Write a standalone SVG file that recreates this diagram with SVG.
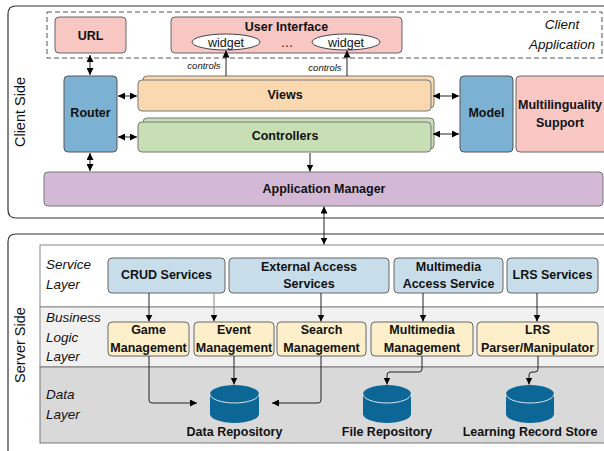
<svg xmlns="http://www.w3.org/2000/svg" width="604" height="451" viewBox="0 0 604 451">
<defs>
<marker id="ah" viewBox="0 0 10 10" refX="10" refY="5" markerWidth="7" markerHeight="7" markerUnits="userSpaceOnUse" orient="auto-start-reverse">
<path d="M0,0 L10,5 L0,10 z" fill="#000"/>
</marker>
<style>
text{font-family:"Liberation Sans",Arial,sans-serif;fill:#111;}
.b{font-weight:bold;font-size:12.5px;text-anchor:middle;}
.it{font-style:italic;font-size:13.5px;}
.ctl{font-style:italic;font-size:9.5px;text-anchor:middle;}
.side{font-size:14.5px;text-anchor:middle;}
.wg{font-size:12.5px;text-anchor:middle;}
.pink{fill:#f8c6c3;stroke:#666;stroke-width:1;}
.blue{fill:#7bb1d2;stroke:#555;stroke-width:1;}
.peach{fill:#fbd9b0;stroke:#777;stroke-width:1;}
.green{fill:#c8dfb6;stroke:#777;stroke-width:1;}
.purple{fill:#d3b9d6;stroke:#777;stroke-width:1;}
.svc{fill:#c7dde9;stroke:#666;stroke-width:1;}
.biz{fill:#fcefc9;stroke:#666;stroke-width:1;}
.cyl{fill:#0c6796;}
.cylline{fill:none;stroke:#d8e6ee;stroke-width:1;}
.ln{fill:none;stroke:#222;stroke-width:1;}
.ln2{fill:none;stroke:#888;stroke-width:1;}
</style>
</defs>

<!-- Containers -->
<g id="client-side">
<path d="M610,6 H16 Q8,6 8,14 V210 Q8,218 16,218 H610" fill="#fff" stroke="#333" stroke-width="1.2"/>
<text class="side" transform="translate(25,112) rotate(-90)">Client Side</text>
</g>
<g id="client-application">
<rect x="47" y="12" width="555" height="46" fill="none" stroke="#555" stroke-width="1" stroke-dasharray="5,3"/>
<text class="it" x="562" y="29" text-anchor="middle">Client</text>
<text class="it" x="562" y="49" text-anchor="middle">Application</text>
</g>
<g id="server-side">
<path d="M610,234 H16 Q8,234 8,242 V455" fill="#fff" stroke="#333" stroke-width="1.2"/>
<text class="side" transform="translate(25,345) rotate(-90)">Server Side</text>
</g>

<g id="service-layer">
<rect x="40" y="245" width="570" height="62" fill="#fff" stroke="#888" stroke-width="1"/>
<text class="it" x="46" y="269">Service</text>
<text class="it" x="46" y="289">Layer</text>
</g>
<g id="business-layer">
<rect x="40" y="307" width="570" height="60" fill="#f1f1f1" stroke="#888" stroke-width="1"/>
<text class="it" x="46" y="322">Business</text>
<text class="it" x="46" y="342">Logic</text>
<text class="it" x="46" y="361">Layer</text>
</g>
<g id="data-layer">
<rect x="40" y="367" width="570" height="76" fill="#d9d9d9" stroke="#777" stroke-width="1"/>
<text class="it" x="46" y="399">Data</text>
<text class="it" x="46" y="419">Layer</text>
</g>

<!-- Client nodes -->
<g id="url">
<rect class="pink" x="55" y="17" width="71" height="36" rx="4"/>
<text class="b" x="90.5" y="39.5">URL</text>
</g>
<g id="user-interface">
<rect class="pink" x="171" y="17" width="231" height="36" rx="4"/>
<text class="b" x="286.5" y="31">User Interface</text>
<ellipse cx="226" cy="42" rx="34" ry="8" fill="#fff" stroke="#444" stroke-width="1"/>
<text class="wg" x="226" y="46.5">widget</text>
<text class="wg" x="287" y="47">…</text>
<ellipse cx="346" cy="42" rx="34" ry="8" fill="#fff" stroke="#444" stroke-width="1"/>
<text class="wg" x="346" y="46.5">widget</text>
</g>
<g id="router">
<rect class="blue" x="64" y="76" width="53" height="76" rx="4"/>
<text class="b" x="90.5" y="116.5">Router</text>
</g>
<g id="views">
<rect class="peach" x="143" y="76" width="291" height="32" rx="4"/>
<rect class="peach" x="138" y="80" width="293" height="31" rx="4"/>
<text class="b" x="285" y="98.5">Views</text>
</g>
<g id="controllers">
<rect class="green" x="143" y="118" width="291" height="31" rx="4"/>
<rect class="green" x="138" y="122" width="293" height="30" rx="4"/>
<text class="b" x="285" y="140">Controllers</text>
</g>
<g id="model">
<rect class="blue" x="460" y="76" width="53" height="76" rx="4"/>
<text class="b" x="486.5" y="116.5">Model</text>
</g>
<g id="multilinguality">
<rect class="pink" x="516" y="76" width="92" height="76" rx="4"/>
<text class="b" x="560" y="108.5">Multilinguality</text>
<text class="b" x="560" y="126.5">Support</text>
</g>
<g id="application-manager">
<rect class="purple" x="44" y="172" width="559" height="34" rx="4"/>
<text class="b" x="324" y="192.5">Application Manager</text>
</g>

<!-- Server nodes -->
<g id="crud-services">
<rect class="svc" x="108" y="258" width="117" height="35" rx="4"/>
<text class="b" x="166.5" y="279">CRUD Services</text>
</g>
<g id="external-access-services">
<rect class="svc" x="229" y="258" width="160" height="35" rx="4"/>
<text class="b" x="309" y="270.5">External Access</text>
<text class="b" x="309" y="287.5">Services</text>
</g>
<g id="multimedia-access-service">
<rect class="svc" x="394" y="258" width="109" height="35" rx="4"/>
<text class="b" x="448.5" y="270.5">Multimedia</text>
<text class="b" x="448.5" y="287.5">Access Service</text>
</g>
<g id="lrs-services">
<rect class="svc" x="507" y="258" width="91" height="35" rx="4"/>
<text class="b" x="552.5" y="279">LRS Services</text>
</g>

<g id="game-management">
<rect class="biz" x="108" y="322" width="81" height="34" rx="4"/>
<text class="b" x="148.5" y="333.5">Game</text>
<text class="b" x="148.5" y="351.5">Management</text>
</g>
<g id="event-management">
<rect class="biz" x="194" y="322" width="80" height="34" rx="4"/>
<text class="b" x="234" y="333.5">Event</text>
<text class="b" x="234" y="351.5">Management</text>
</g>
<g id="search-management">
<rect class="biz" x="277" y="322" width="89" height="34" rx="4"/>
<text class="b" x="321.5" y="333.5">Search</text>
<text class="b" x="321.5" y="351.5">Management</text>
</g>
<g id="multimedia-management">
<rect class="biz" x="371" y="322" width="102" height="34" rx="4"/>
<text class="b" x="422" y="333.5">Multimedia</text>
<text class="b" x="422" y="351.5">Management</text>
</g>
<g id="lrs-parser">
<rect class="biz" x="477" y="322" width="121" height="34" rx="4"/>
<text class="b" x="537.5" y="333.5">LRS</text>
<text class="b" x="537.5" y="351.5">Parser/Manipulator</text>
</g>

<g id="data-repository">
<path class="cyl" d="M210,394 A24.5,9 0 0 1 259,394 V414 A24.5,9 0 0 1 210,414 Z"/>
<path class="cylline" d="M210,394 A24.5,9 0 0 0 259,394"/>
<text class="b" x="234.5" y="436">Data Repository</text>
</g>
<g id="file-repository">
<path class="cyl" d="M363,394 A24,9 0 0 1 411,394 V414 A24,9 0 0 1 363,414 Z"/>
<path class="cylline" d="M363,394 A24,9 0 0 0 411,394"/>
<text class="b" x="387" y="436">File Repository</text>
</g>
<g id="learning-record-store">
<path class="cyl" d="M506,394 A24,9 0 0 1 554,394 V414 A24,9 0 0 1 506,414 Z"/>
<path class="cylline" d="M506,394 A24,9 0 0 0 554,394"/>
<text class="b" x="530" y="436">Learning Record Store</text>
</g>

<!-- Connectors -->
<g id="connectors">
<line class="ln" x1="90" y1="55" x2="90" y2="75" marker-start="url(#ah)" marker-end="url(#ah)"/>
<line class="ln" x1="90" y1="153" x2="90" y2="171" marker-start="url(#ah)" marker-end="url(#ah)"/>
<line class="ln" x1="118" y1="96" x2="137" y2="96" marker-start="url(#ah)" marker-end="url(#ah)"/>
<line class="ln" x1="118" y1="137" x2="137" y2="137" marker-start="url(#ah)" marker-end="url(#ah)"/>
<line class="ln" x1="433" y1="96" x2="459" y2="96" marker-start="url(#ah)" marker-end="url(#ah)"/>
<line class="ln" x1="433" y1="134" x2="459" y2="134" marker-start="url(#ah)" marker-end="url(#ah)"/>
<line class="ln" x1="226" y1="76" x2="226" y2="50.5" marker-end="url(#ah)"/>
<line class="ln" x1="347" y1="76" x2="347" y2="50.5" marker-end="url(#ah)"/>
<text class="ctl" x="204" y="69">controls</text>
<text class="ctl" x="325" y="71">controls</text>
<line class="ln" x1="310" y1="153" x2="310" y2="171.5" marker-end="url(#ah)"/>
<line class="ln" x1="324" y1="206.5" x2="324" y2="244.5" marker-start="url(#ah)" marker-end="url(#ah)"/>

<line class="ln" x1="149" y1="293" x2="149" y2="321.5" marker-end="url(#ah)"/>
<line class="ln2" x1="214" y1="293" x2="214" y2="321.5" marker-end="url(#ah)"/>
<line class="ln" x1="321" y1="293" x2="321" y2="321.5" marker-end="url(#ah)"/>
<line class="ln" x1="423" y1="293" x2="423" y2="321.5" marker-end="url(#ah)"/>
<line class="ln" x1="537" y1="293" x2="537" y2="321.5" marker-end="url(#ah)"/>

<path class="ln" d="M149,356 V400 Q149,403 152,403 H197" marker-end="url(#ah)"/>
<line class="ln" x1="234" y1="356" x2="234" y2="384.5" marker-end="url(#ah)"/>
<path class="ln" d="M321,356 V400 Q321,403 318,403 H272" marker-end="url(#ah)"/>
<path class="ln" d="M422,356 V369 Q422,372 419,372 H390 Q387,372 387,375 V384.5" marker-end="url(#ah)"/>
<path class="ln" d="M538,356 V369 Q538,372 535,372 H532 Q529,372 529,375 V384.5" marker-end="url(#ah)"/>
</g>
</svg>
